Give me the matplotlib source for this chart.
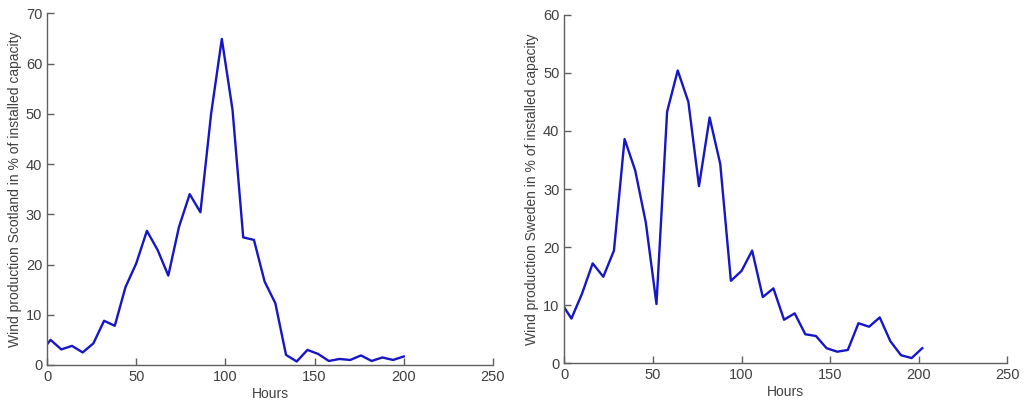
import matplotlib
matplotlib.use('Agg')
import matplotlib.pyplot as plt

plt.rcParams['font.family'] = ['Liberation Sans', 'DejaVu Sans']

# Scotland series (hours, % of installed capacity)
hours_sc = [0, 2, 8, 14, 20, 26, 32, 38, 44, 50, 56, 62, 68, 74, 80, 86, 92, 98,
            104, 110, 116, 122, 128, 134, 140, 146, 152, 158, 164, 170, 176, 182,
            188, 194, 200]
wind_sc = [4.1, 5.0, 3.1, 3.8, 2.5, 4.3, 8.8, 7.8, 15.5, 20.2, 26.7, 22.9, 17.8,
           27.5, 34.0, 30.4, 50.0, 64.9, 50.8, 25.4, 24.9, 16.6, 12.3, 2.0, 0.7,
           3.0, 2.2, 0.8, 1.2, 1.0, 1.9, 0.8, 1.5, 1.0, 1.7]

# Sweden series
hours_se = [0, 4, 10, 16, 22, 28, 34, 40, 46, 52, 58, 64, 70, 76, 82, 88, 94, 100,
            106, 112, 118, 124, 130, 136, 142, 148, 154, 160, 166, 172, 178, 184,
            190, 196, 202]
wind_se = [9.6, 7.7, 12.0, 17.2, 14.9, 19.4, 38.6, 33.2, 24.2, 10.2, 43.3, 50.4,
           45.0, 30.5, 42.3, 34.3, 14.2, 15.9, 19.4, 11.4, 12.9, 7.5, 8.6, 5.0,
           4.7, 2.6, 2.0, 2.3, 6.9, 6.3, 7.9, 3.8, 1.4, 0.9, 2.6]

xticks = [0, 50, 100, 150, 200, 250]

line_col = '#1616c4'
txt_col = '#404040'
axis_col = '#606060'

fig = plt.figure(figsize=(10.24, 4.09), dpi=100)
ax1 = fig.add_axes([0.0459, 0.1076, 0.4355, 0.8599])
ax2 = fig.add_axes([0.5511, 0.1117, 0.4326, 0.8523])


def style_ax(ax, ymax, ystep, ylabel):
    ax.set_xlim(0, 250)
    ax.set_ylim(0, ymax)
    ax.set_xticks(xticks)
    ax.set_yticks(range(0, ymax + 1, ystep))
    for s in ['top', 'right']:
        ax.spines[s].set_visible(False)
    for s in ['left', 'bottom']:
        ax.spines[s].set_color(axis_col)
        ax.spines[s].set_linewidth(1.0)
    ax.tick_params(direction='in', length=5, width=1.0, colors=axis_col,
                   labelcolor=txt_col, labelsize=10.5)
    ax.set_xlabel('Hours', fontsize=10, color=txt_col, labelpad=2)
    ax.set_ylabel(ylabel, fontsize=10, color=txt_col, labelpad=3)


ax1.plot(hours_sc, wind_sc, color=line_col, lw=1.7)
style_ax(ax1, 70, 10, 'Wind production Scotland in % of installed capacity')

ax2.plot(hours_se, wind_se, color=line_col, lw=1.7)
style_ax(ax2, 60, 10, 'Wind production Sweden in % of installed capacity')

fig.savefig('out.png', dpi=100)
